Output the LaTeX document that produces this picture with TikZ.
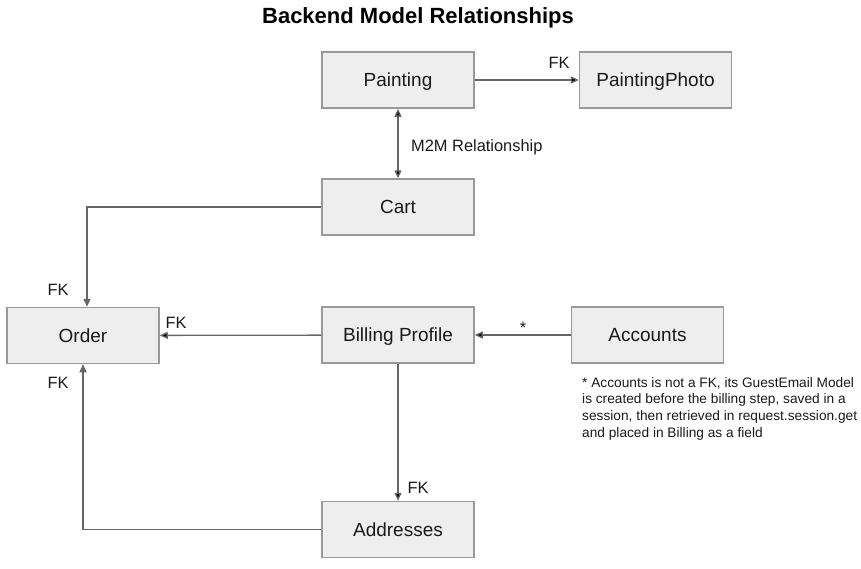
\documentclass[tikz,border=0pt]{standalone}
\usepackage{fontspec}
\setmainfont{Liberation Sans}
\usetikzlibrary{arrows.meta}
\definecolor{boxfill}{HTML}{EEEEEE}
\definecolor{boxline}{HTML}{999999}
\definecolor{edgeline}{HTML}{666666}
\definecolor{textcol}{HTML}{1A1A1A}
\tikzset{
  model/.style={draw=boxline, line width=1.5pt, fill=boxfill, minimum width=152pt, minimum height=56pt, inner sep=0pt, text height=13.6pt, text depth=0pt, text=textcol, font=\fontsize{19}{22}\selectfont},
  rel/.style={draw=edgeline, line width=1.3pt, -{Triangle[length=8pt,width=7pt]}},
  both/.style={draw=edgeline, line width=1.3pt, {Triangle[length=8pt,width=7pt]}-{Triangle[length=8pt,width=7pt]}},
  lbl/.style={font=\fontsize{16.4}{19}\selectfont, inner sep=0pt, text=textcol},
}
\begin{document}
\begin{tikzpicture}[x=1pt,y=-1pt]
\useasboundingbox[fill=white] (0,0) rectangle (861,568);
\node[font=\bfseries\fontsize{22}{26}\selectfont] (title) at (418, 18) {Backend Model Relationships};
\node[model] (painting) at (398, 80) {Painting};
\node[model] (photo) at (655.5, 80) {PaintingPhoto};
\node[model] (cart) at (398, 207) {Cart};
\node[model] (order) at (83, 335.5) {Order};
\node[model] (billing) at (398, 335) {Billing Profile};
\node[model] (accounts) at (647.5, 335) {Accounts};
\node[model] (addresses) at (398, 529.5) {Addresses};

% edges
\path[rel] (painting) edge (photo); % painting to photo
\path[both] (painting) edge (cart); % m2m
\draw[rel] (cart.west) -| ([xshift=4pt]order.north); % cart to order
\path[rel] (billing) edge (order);
\path[rel] (accounts) edge (billing);
\path[rel] (billing) edge (addresses);
\draw[rel] (addresses.west) -| (order.south); % addresses to order

% labels
\node[lbl] (fk1) at (559, 63) {FK};
\node[lbl, anchor=west] (m2m) at (411, 147) {M2M Relationship};
\node[lbl] (fk2) at (58, 290) {FK};
\node[lbl] (fk3) at (176, 323) {FK};
\node[lbl] (star) at (523, 328) {*};
\node[lbl] (fk4) at (418, 488) {FK};
\node[lbl] (fk5) at (58, 383) {FK};
\node[anchor=north west, align=left, inner sep=0pt, text=textcol, font=\fontsize{13.7}{16.7}\selectfont] (note) at (582, 377) {* Accounts is not a FK, its GuestEmail Model\\is created before the billing step, saved in a\\session, then retrieved in request.session.get\\and placed in Billing as a field};
\end{tikzpicture}
\end{document}
